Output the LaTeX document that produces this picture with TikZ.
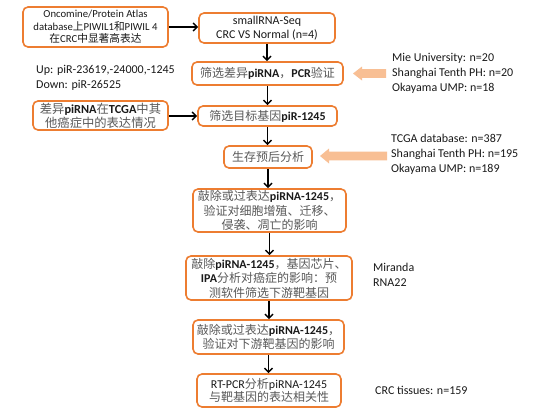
\documentclass[tikz,border=0pt]{standalone}
\usepackage{fontspec}
\setmainfont{Carlito}
\newfontfamily\cjk{Noto Sans CJK SC}
\usetikzlibrary{arrows.meta}
\definecolor{boxorange}{HTML}{ED7D31}
\definecolor{peach}{HTML}{F8BF94}
\definecolor{songgray}{HTML}{595959}
\definecolor{txt}{HTML}{1A1A1A}
\newcommand\zh[1]{{\cjk #1}}
\newcommand\gz[1]{{\cjk\color{songgray}#1}}
\newcommand\lb[1]{{\bfseries #1}}
\begin{document}
\begin{tikzpicture}[x=1pt,y=-1pt,
  flowbox/.style={draw=boxorange, line width=1.6pt, rounded corners=5pt, inner sep=0pt, align=center, text=txt},
  flowarrow/.style={line width=1.5pt, -{Straight Barb[length=4pt,width=8pt]}},
  sidetext/.style={anchor=west, align=left, inner sep=0pt, text=txt, font=\fontsize{12}{15}\selectfont},
  zhfont/.style={font=\fontsize{12}{14.5}\selectfont}]
\useasboundingbox (0,0) rectangle (554,415);
\fill[white] (0,0) rectangle (554,415);

% boxes
\node[flowbox, minimum width=145, minimum height=40, font=\fontsize{10.7}{12.7}\selectfont] (A) at (95.5,27)
  {Oncomine/Protein Atlas\\database\zh{上}PIWIL1\zh{和}PIWIL 4\\\zh{在}CRC\zh{中显著高表达}};
\node[flowbox, minimum width=136, minimum height=30, font=\fontsize{12}{14}\selectfont] (B) at (267,28)
  {smallRNA-Seq\\CRC VS Normal (n=4)};
\node[flowbox, minimum width=151, minimum height=23, zhfont] (C) at (267.5,73.5)
  {\gz{筛选差异}\lb{piRNA}\gz{，}\lb{PCR}\gz{验证}};
\node[flowbox, minimum width=135, minimum height=29, font=\fontsize{12.3}{14}\selectfont] (D) at (100.5,115.5)
  {\gz{差异}\lb{piRNA}\gz{在}\lb{TCGA}\gz{中其}\\\gz{他癌症中的表达情况}};
\node[flowbox, minimum width=139, minimum height=20, zhfont] (E) at (267.5,116)
  {\gz{筛选目标基因}\lb{piR-1245}};
\node[flowbox, minimum width=88, minimum height=22, zhfont] (F) at (268,157)
  {\gz{生存预后分析}};
\node[flowbox, minimum width=153, minimum height=43, zhfont] (G) at (269.5,210.5)
  {\gz{敲除或过表达}\lb{piRNA-1245}\gz{，}\\\gz{验证对细胞增殖、迁移、}\\\gz{侵袭、凋亡的影响}};
\node[flowbox, minimum width=166, minimum height=44, zhfont] (H) at (269,278)
  {\gz{敲除}\lb{piRNA-1245}\gz{，基因芯片、}\\\lb{IPA}\gz{分析对癌症的影响：预}\\\gz{测软件筛选下游靶基因}};
\node[flowbox, minimum width=151, minimum height=34, zhfont] (I) at (268.5,337)
  {\gz{敲除或过表达}\lb{piRNA-1245}\gz{，}\\\gz{验证对下游靶基因的影响}};
\node[flowbox, minimum width=144, minimum height=33, font=\fontsize{12}{13.5}\selectfont] (J) at (269,390.5)
  {RT-PCR\gz{分析}piRNA-1245\\\gz{与靶基因的表达相关性}};

% side texts
\node[sidetext] (up) at (36,78) {Up: piR-23619,-24000,-1245\\Down: piR-26525};
\node[sidetext] (mie) at (392,73) {Mie University: n=20\\Shanghai Tenth PH: n=20\\Okayama UMP: n=18};
\node[sidetext] (tcga) at (391,154.5) {TCGA database: n=387\\Shanghai Tenth PH: n=195\\Okayama UMP: n=189};
\node[sidetext] (mir) at (373,274.5) {Miranda\\RNA22};
\node[sidetext] (crc) at (375,390) {CRC tissues: n=159};

% connectors
\draw[flowarrow] (A.east) -- (A.east -| B.west);
\draw[flowarrow] (D.east |- E.west) -- (E.west);
\draw[flowarrow] (B.south) -- (B.south |- C.north);
\draw[flowarrow] (C.south) -- (C.south |- E.north);
\draw[flowarrow] (E.south) -- (E.south |- F.north);
\draw[flowarrow] (F.south) -- (F.south |- G.north);
\draw[flowarrow] (G.south) -- (G.south |- H.north);
\draw[flowarrow] (H.south) -- (H.south |- I.north);
\draw[flowarrow] (I.south) -- (I.south |- J.north);

% block arrows
\fill[peach] (353,73.5) -- (362,66.5) -- (362,69.2) -- (386,69.2) -- (386,77.8) -- (362,77.8) -- (362,80.5) -- cycle;
\fill[peach] (320,156) -- (329,148.5) -- (329,151.7) -- (387,151.7) -- (387,160.3) -- (329,160.3) -- (329,163.5) -- cycle;
\end{tikzpicture}
\end{document}
